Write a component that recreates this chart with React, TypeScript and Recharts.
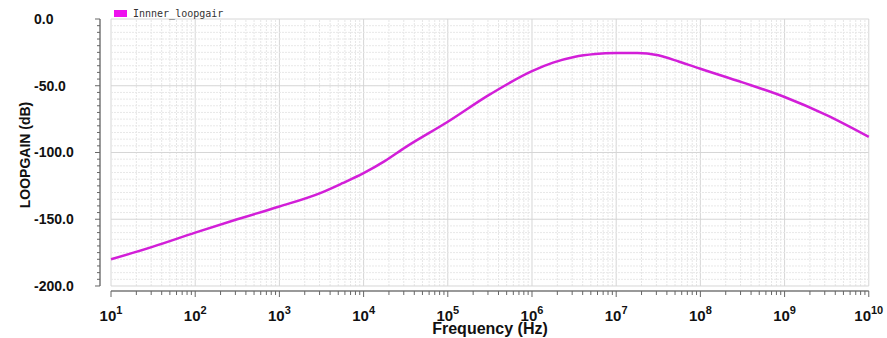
import React from 'react';
import { LineChart, Line, XAxis, YAxis, ReferenceLine } from 'recharts';

// Frequency (Hz) samples and loop gain (dB)
const frequencies = [1e1, 3.16e1, 1e2, 3.16e2, 1e3, 3.16e3, 5.62e3, 1e4, 1.78e4, 3.16e4, 1e5, 3.16e5, 1e6, 1.78e6, 3.16e6, 5.62e6, 1e7, 1.78e7, 3.16e7, 5.62e7, 1e8, 3.16e8, 1e9, 3.16e9, 1e10];
const loopGainDb = [-180, -170.5, -160, -150, -140.5, -130, -123, -115.5, -106.5, -96, -77, -56.5, -39, -32.7, -28.5, -26.3, -25.5, -25.4, -27.2, -32, -37.3, -47.5, -58.4, -72, -88.3];

const decadeExponents = [1, 2, 3, 4, 5, 6, 7, 8, 9, 10];
const minorMultipliers = [2, 3, 4, 5, 6, 7, 8, 9];
const yMajorTicks = [0, -50, -100, -150, -200];

const seriesName = 'Innner_loopgair';
const xAxisTitle = 'Frequency (Hz)';
const yAxisTitle = 'LOOPGAIN (dB)';

const xDomain: [number, number] = [7.4, 1.034e10];
const yDomain: [number, number] = [-203.75, 0];

const data = frequencies.map((f, i) => ({ f, db: loopGainDb[i] }));

const xTicks: number[] = [];
decadeExponents.forEach((e) => {
  xTicks.push(Math.pow(10, e));
  if (e < 10) minorMultipliers.forEach((m) => xTicks.push(m * Math.pow(10, e)));
});
xTicks.sort((a, b) => a - b);

const yTicks: number[] = [];
for (let v = -200; v <= 0; v += 5) yTicks.push(v);

const FONT = '"Liberation Sans", Arial, Helvetica, sans-serif';
const LINE_COLOR = '#d21ed8';

const isDecade = (v: number) => {
  const e = Math.log10(v);
  return Math.abs(e - Math.round(e)) < 1e-6;
};

const XTick = (props: any) => {
  const { x, y, payload } = props;
  const v = payload.value;
  const major = isDecade(v);
  const exp = Math.round(Math.log10(v));
  return (
    <g>
      <line x1={x} x2={x} y1={y} y2={y + (major ? 6 : 4)} stroke="#666" strokeWidth={1} />
      {major && (
        <text x={x} y={y + 30} textAnchor="middle" fontFamily={FONT} fontWeight="bold" fontSize={15} fill="#111">
          <tspan>10</tspan>
          <tspan dy={-7} fontSize={11}>{exp}</tspan>
        </text>
      )}
    </g>
  );
};

const YTick = (props: any) => {
  const { x, y, payload } = props;
  const v = payload.value;
  const major = yMajorTicks.includes(v);
  return (
    <g>
      <line x1={x - (major ? 5 : 3)} x2={x} y1={y} y2={y} stroke="#666" strokeWidth={1} />
      {major && (
        <text x={x - 66} y={y + 5} textAnchor="start" fontFamily={FONT} fontWeight="bold" fontSize={14} fill="#111">
          {v.toFixed(1)}
        </text>
      )}
    </g>
  );
};

const XTitle = (props: any) => {
  const vb = props.viewBox || {};
  return (
    <text x={vb.x + vb.width / 2 + 5} y={vb.y + 43} textAnchor="middle" fontFamily={FONT} fontWeight="bold" fontSize={16} fill="#111">
      {xAxisTitle}
    </text>
  );
};

const YTitle = (props: any) => {
  const vb = props.viewBox || {};
  const cx = 25;
  const cy = vb.y + vb.height / 2;
  return (
    <text x={cx} y={cy} transform={`rotate(-90 ${cx} ${cy})`} textAnchor="middle" dominantBaseline="central" fontFamily={FONT} fontWeight="bold" fontSize={14} fill="#111">
      {yAxisTitle}
    </text>
  );
};

export default function App() {
  const gridV = xTicks.map((t) => (
    <ReferenceLine
      key={`gv${t}`}
      segment={[{ x: t, y: -200 }, { x: t, y: 0 }]}
      stroke={isDecade(t) ? '#d6d6d6' : '#e6e6e6'}
      strokeDasharray={isDecade(t) ? undefined : '2 1'}
      strokeWidth={1}
    />
  ));
  const gridH = yTicks.map((t) => (
    <ReferenceLine
      key={`gh${t}`}
      segment={[{ x: 10, y: t }, { x: 1e10, y: t }]}
      stroke={yMajorTicks.includes(t) ? '#d6d6d6' : '#e8e8e8'}
      strokeDasharray={yMajorTicks.includes(t) ? undefined : '2 1'}
      strokeWidth={1}
    />
  ));
  return (
    <div style={{ position: 'absolute', left: 0, top: 0, width: 887, height: 338, background: '#fff' }}>
      <LineChart width={887} height={338} data={data} margin={{ top: 19, right: 17, bottom: 0, left: 0 }}>
        <XAxis
          dataKey="f"
          type="number"
          scale="log"
          domain={xDomain}
          allowDataOverflow
          ticks={xTicks}
          interval={0}
          axisLine={false}
          tickLine={false}
          tickSize={0}
          tickMargin={0}
          tick={<XTick />}
          height={47}
          label={<XTitle />}
        />
        <YAxis
          type="number"
          domain={yDomain}
          allowDataOverflow
          ticks={yTicks}
          interval={0}
          axisLine={false}
          tickLine={false}
          tickSize={0}
          tickMargin={0}
          tick={<YTick />}
          width={100}
          label={<YTitle />}
        />
        {gridV}
        {gridH}
        <ReferenceLine segment={[{ x: xDomain[0], y: -200 }, { x: xDomain[0], y: 0 }]} stroke="#777" strokeWidth={1.5} />
        <ReferenceLine segment={[{ x: 10, y: yDomain[0] }, { x: 1e10, y: yDomain[0] }]} stroke="#777" strokeWidth={1.5} />
        <Line
          dataKey="db"
          name={seriesName}
          type="monotone"
          stroke={LINE_COLOR}
          strokeWidth={2.5}
          dot={false}
          isAnimationActive={false}
        />
      </LineChart>
      <div style={{ position: 'absolute', left: 114, top: 8, display: 'flex', alignItems: 'center', fontFamily: '"DejaVu Sans Mono", monospace', fontSize: 10, color: '#333' }}>
        <div style={{ width: 13, height: 7, background: '#ee10ee', marginRight: 6 }} />
        <span>{seriesName}</span>
      </div>
    </div>
  );
}
